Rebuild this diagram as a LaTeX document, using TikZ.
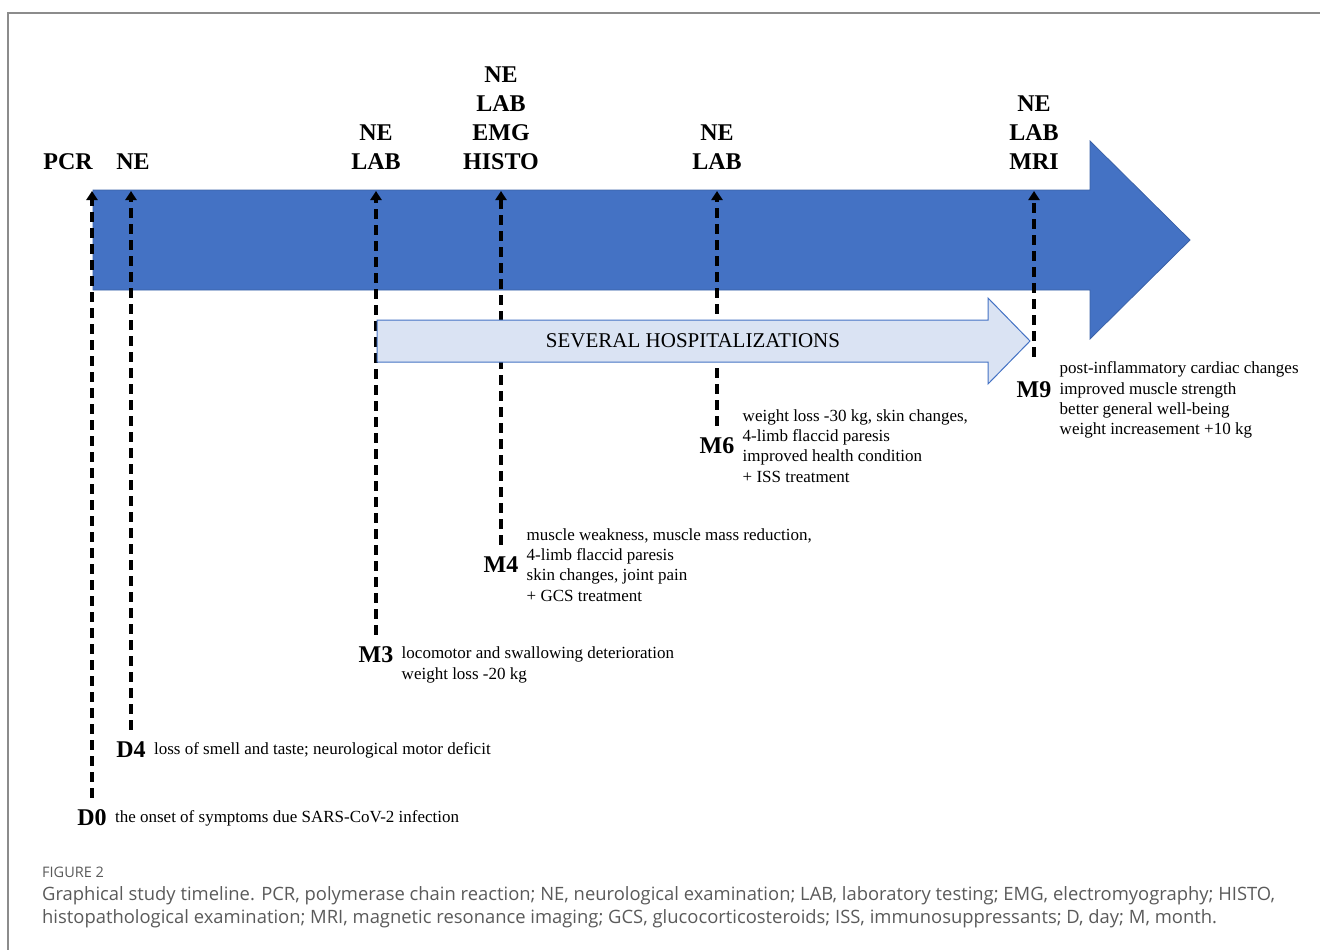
\documentclass[tikz,border=0pt]{standalone}
\usepackage{fontspec}
\setmainfont{Liberation Serif}
\newfontfamily\capfont{Open Sans}
\usetikzlibrary{positioning,arrows.meta}
\definecolor{barblue}{HTML}{4472C4}
\definecolor{barlight}{HTML}{DAE3F3}
\definecolor{framegray}{HTML}{8C8C8C}
\definecolor{capgray}{HTML}{5A5A5A}

\begin{document}
\begin{tikzpicture}[x=1pt,y=-1pt,
		stamp/.style={font=\fontsize{24}{29}\selectfont\bfseries, inner sep=0pt},
		exams/.style={stamp, align=center, anchor=south},
		notes/.style={font=\fontsize{17}{20.3}\selectfont, align=left, inner sep=0pt, right=8pt of #1},
		visit/.style={line width=3.4pt, dash pattern=on 10pt off 6pt, shorten <=12pt, -{Triangle[width=11pt,length=9pt]}}]
	\useasboundingbox (0,0) rectangle (1320,950);
	\draw[framegray, line width=1.5pt] (8,950) -- (8,13) -- (1320,13);
	% main time bar
	\filldraw[fill=barblue, draw=barblue!85!black, line width=0.8pt]
		(93,190) -- (1090,190) -- (1090,141) -- (1190,240) -- (1090,339) -- (1090,290) -- (93,290) -- cycle;
	\coordinate (bartop) at (0,191);
	\node[exams] (pcr) at (68,170) {PCR};
	\node[exams] (ex0) at (133,170) {NE};
	\node[exams] (ex3) at (376,170) {NE\\LAB};
	\node[exams] (ex4) at (501,170) {NE\\LAB\\EMG\\HISTO};
	\node[exams] (ex6) at (717,170) {NE\\LAB};
	\node[exams] (ex9) at (1034,170) {NE\\LAB\\MRI};
	\node[stamp] (d0) at (92,818) {D0};
	\node[notes=d0] (d0txt) {the onset of symptoms due SARS-CoV-2 infection};
	\node[stamp] (d4) at (131,750) {D4};
	\node[notes=d4] (d4txt) {loss of smell and taste; neurological motor deficit};
	\node[stamp] (m3) at (376,655) {M3};
	\node[notes=m3, yshift=-10pt] (m3txt) {locomotor and swallowing deterioration\\weight loss -20 kg};
	\node[stamp] (m4) at (501,565) {M4};
	\node[notes=m4] (m4txt) {muscle weakness, muscle mass reduction,\\4-limb flaccid paresis\\skin changes, joint pain\\+ GCS treatment};
	\node[stamp] (m6) at (717,446) {M6};
	\node[notes=m6] (m6txt) {weight loss -30 kg, skin changes,\\4-limb flaccid paresis\\improved health condition\\+ ISS treatment};
	\node[stamp] (m9) at (1034,390) {M9};
	\node[notes=m9, yshift=-10pt] (m9txt) {post-inflammatory cardiac changes\\improved muscle strength\\better general well-being\\weight increasement +10 kg};
	\foreach \ev in {d0,d4,m3,m4,m6}
		\draw[visit] (\ev.north) -- (\ev.north |- bartop);
	\draw[visit, shorten <=25pt] (m9.north) -- (m9.north |- bartop);
	% hospital stays
	\filldraw[fill=barlight, draw=barblue, line width=1pt]
		(377,320) -- (988,320) -- (988,298) -- (1030,341) -- (988,384) -- (988,362) -- (377,362) -- cycle;
	\node[font=\fontsize{21}{24}\selectfont] (stays) at (693,341) {SEVERAL HOSPITALIZATIONS};
	\node[anchor=west, inner sep=0pt, font=\capfont\fontsize{14.5}{16}\selectfont, text=capgray] (fig) at (42,872) {FIGURE 2};
	\node[anchor=north west, align=left, inner sep=0pt, font=\capfont\fontsize{18.4}{23}\selectfont, text=capgray] (cap) at (42,886)
		{Graphical study timeline. PCR, polymerase chain reaction; NE, neurological examination; LAB, laboratory testing; EMG, electromyography; HISTO,\\
		histopathological examination; MRI, magnetic resonance imaging; GCS, glucocorticosteroids; ISS, immunosuppressants; D, day; M, month.};
\end{tikzpicture}
\end{document}
